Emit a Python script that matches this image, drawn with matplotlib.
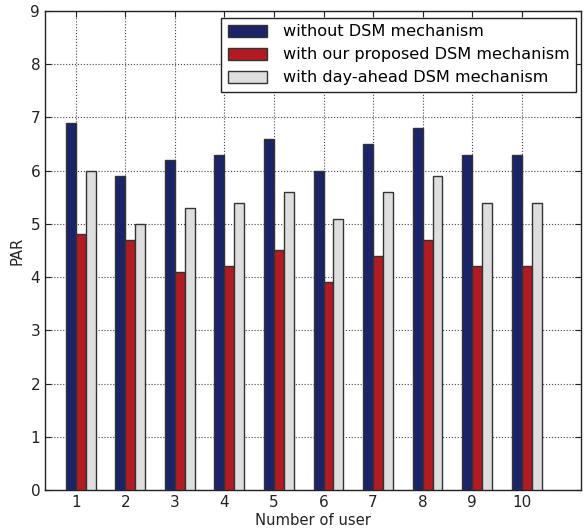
import numpy as np
import matplotlib
matplotlib.use("Agg")
import matplotlib.pyplot as plt

users = [1, 2, 3, 4, 5, 6, 7, 8, 9, 10]
without_dsm = [6.9, 5.9, 6.2, 6.3, 6.6, 6.0, 6.5, 6.8, 6.3, 6.3]
proposed_dsm = [4.8, 4.7, 4.1, 4.2, 4.5, 3.9, 4.4, 4.7, 4.2, 4.2]
day_ahead_dsm = [6.0, 5.0, 5.3, 5.4, 5.6, 5.1, 5.6, 5.9, 5.4, 5.4]
labels = ["without DSM mechanism",
          "with our proposed DSM mechanism",
          "with day-ahead DSM mechanism"]

fig = plt.figure(figsize=(5.84, 5.29), dpi=100)
ax = fig.add_axes([0.0771, 0.0732, 0.9172, 0.9066])

ind = np.array(users)
w = 0.2
ax.bar(ind - w, without_dsm, w, align="edge", color="#1b2468",
       edgecolor="#333333", linewidth=1, label=labels[0], zorder=3)
ax.bar(ind, proposed_dsm, w, align="edge", color="#b31b23",
       edgecolor="#333333", linewidth=1, label=labels[1], zorder=3)
ax.bar(ind + w, day_ahead_dsm, w, align="edge", color="#dedede",
       edgecolor="#333333", linewidth=1, label=labels[2], zorder=3)

ax.set_xlim(0.38, 11.19)
ax.set_ylim(0, 9)
ax.set_xticks(ind)
ax.set_xticklabels([str(u) for u in users])
ax.set_yticks(range(0, 10))
ax.tick_params(direction="in", top=True, right=True, labelsize=11,
               colors="#222222", length=4)
ax.grid(True, linestyle=":", color="#444444", linewidth=0.8, zorder=0)
for s in ax.spines.values():
    s.set_color("#222222")
    s.set_linewidth(1)

ax.set_xlabel("Number of user", fontsize=10.6, color="#222222", labelpad=2)
ax.set_ylabel("PAR", fontsize=10.6, color="#222222", labelpad=4)

leg = ax.legend(loc="upper right", bbox_to_anchor=(0.991, 0.985),
                fontsize=11.6, fancybox=False,
                framealpha=1, edgecolor="#222222", borderaxespad=0,
                handlelength=2.4, handleheight=0.8, labelspacing=0.5,
                handletextpad=1.0, borderpad=0.4)
leg.get_frame().set_linewidth(1)

fig.savefig("out.png", dpi=100)
